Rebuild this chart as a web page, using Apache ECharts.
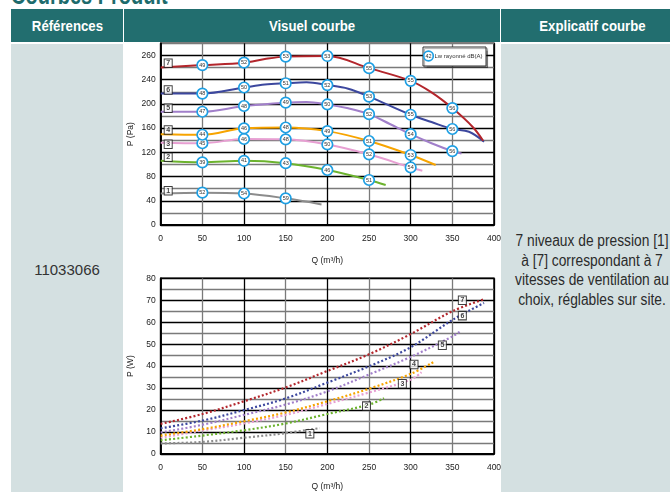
<!DOCTYPE html>
<html>
<head>
<meta charset="utf-8">
<script src="https://cdn.jsdelivr.net/npm/echarts@6/dist/echarts.min.js"></script>
<style>
  html, body { margin: 0; padding: 0; background: #fff; }
  body { width: 670px; height: 492px; position: relative; overflow: hidden;
         font-family: "Liberation Sans", Arial, sans-serif; }
  .title { position: absolute; left: 11px; top: -17px; font: bold 25px/25px "Liberation Sans", sans-serif; color: #1d6b6c;
           transform: scaleX(0.8); transform-origin: left center; white-space: nowrap; }
  .head { position: absolute; top: 9px; height: 33px; background: #226e6f; color: #fff;
          font: bold 15px/33px "Liberation Sans", sans-serif; text-align: center; }
  .head span { display: inline-block; transform: scaleX(0.88); white-space: nowrap; }
  .col { position: absolute; top: 44px; height: 460px; }
  .light { background: #d4e0e1; }
  .ref { position: absolute; left: 11px; width: 112px; top: 261px; text-align: center; font-size: 15px; color: #333; }
  .expl { position: absolute; left: 501px; width: 182px; top: 231px; text-align: center; white-space: nowrap;
          font: 16px/19.5px "Liberation Sans", sans-serif; color: #2b2b2b; transform: scaleX(0.86); }
  #chart { position: absolute; left: 0; top: 0; width: 670px; height: 492px; }
</style>
</head>
<body>
<div class="title">Courbes Produit</div>
<div class="head" style="left:11px;width:112px"><span>Références</span></div>
<div class="head" style="left:124px;width:376px"><span>Visuel courbe</span></div>
<div class="head" style="left:501px;width:182px"><span>Explicatif courbe</span></div>
<div class="col light" style="left:11px;width:112px"></div>
<div class="col light" style="left:501px;width:182px"></div>
<div class="ref">11033066</div>
<div class="expl">7 niveaux de pression [1]<br>à [7] correspondant à 7<br>vitesses de ventilation au<br>choix, réglables sur site.</div>
<div id="chart"></div>
<script>
// courbes pression P (Pa) en fonction du débit Q (m3/h), niveaux 1 à 7
const pressure7 = [[0,260],[50,264],[100,268],[125,274],[150,278],[200,279],[250,259],[300,238],[325,219],[350,193],[375,161],[387,139]];
const pressure6 = [[0,217],[50,217],[100,227],[125,232],[150,234],[175,235.5],[200,231],[225,225],[250,212],[300,182],[325,170],[350,158.5],[370,154],[388,137.6]];
const pressure5 = [[0,187],[50,187],[100,196.5],[150,202],[175,203],[200,199],[225,192.6],[250,183],[275,166.8],[300,150],[325,135],[350,122],[361,118]];
const pressure4 = [[0,150],[50,149],[100,159.6],[150,161],[200,155],[250,138.7],[300,115.6],[330,99]];
const pressure3 = [[0,136],[50,135],[100,142],[150,141.4],[200,133],[250,116.7],[300,95],[314,89.7]];
const pressure2 = [[0,106],[50,103.5],[100,106],[150,102],[200,90.8],[250,74.3],[270,66]];
const pressure1 = [[0,52],[50,53.4],[100,52],[150,44],[193,34]];

// niveaux Lw rayonné dB(A) aux débits 50, 100, 150 ...
const dbQ = [50,100,150,200,250,300,350];
const db7 = [49,52,53,53,55,55,56];
const db6 = [48,50,51,52,53,55,56];
const db5 = [47,48,49,50,52,54,56];
const db4 = [44,46,48,49,51,53];
const db3 = [45,46,48,50,52,54];
const db2 = [39,41,43,46,51];
const db1 = [52,54,59];

// puissance P (W)
const power7 = [[0,13.7],[50,18.2],[100,24],[150,30.3],[200,37.8],[250,45.4],[300,54.6],[350,65],[387,70.3]];
const power6 = [[0,11.7],[50,15.2],[100,20],[150,25.3],[200,32.5],[250,39.9],[300,48.6],[350,61],[388,68.8]];
const power5 = [[0,9.8],[50,13.3],[100,17.8],[150,22.5],[200,28.5],[250,36.2],[300,44.2],[350,53.5],[360,56]];
const power4 = [[0,8.4],[50,11.3],[100,14.9],[150,18.9],[200,24],[250,29.7],[300,36.5],[328,42]];
const power3 = [[0,7.4],[50,10.7],[100,13.9],[150,17.8],[200,22.8],[250,28],[300,33.8],[313,37.2]];
const power2 = [[0,6.2],[50,8.4],[100,10.8],[150,13.9],[200,18.2],[250,22.5],[268,25.4]];
const power1 = [[0,4.8],[50,5.5],[100,7.4],[150,9.5],[191,11.8]];

// étiquettes des niveaux [1]..[7]
const levelNames = ['1','2','3','4','5','6','7'];
const pressureTags = [[9,56.7],[9,111.7],[9,133.2],[9,157],[9,192.7],[9,223],[9,267]];
const powerTags = [[179,9.2],[247,21.8],[290,32],[304,40.8],[338,49.5],[362,63],[362,70]];

const levelColors = ['#8c8c8c','#6cb32e','#e79fd2','#f7a400','#a17fca','#3c479e','#b3262c'];
const pressureTickValues = [0,40,80,120,160,200,240,280];
const pressureTickLabels = ['0','40','80','120','160','200','240','260'];

const pressureCurves = [pressure1,pressure2,pressure3,pressure4,pressure5,pressure6,pressure7];
const powerCurves = [power1,power2,power3,power4,power5,power6,power7];
const dbLevels = [db1,db2,db3,db4,db5,db6,db7];

const chart = echarts.init(document.getElementById('chart'), null, { renderer: 'canvas' });

const axisFont = { fontSize: 8.5, color: '#222', fontFamily: 'Liberation Sans' };

function xAxisFor(gridIndex, gap) {
  return {
    gridIndex, type: 'value', min: 0, max: 400, interval: 50,
    name: 'Q (m³/h)', nameLocation: 'middle', nameGap: gap,
    nameTextStyle: axisFont,
    axisLine: { lineStyle: { color: '#000', width: 1.8 } },
    axisTick: { show: false },
    axisLabel: Object.assign({ margin: 9 }, axisFont),
    splitLine: { show: true, lineStyle: { color: ['#000', '#7a7a7a'], width: 1.3 } }
  };
}

const lineSeries = [];
pressureCurves.forEach((c, i) => {
  lineSeries.push({
    type: 'line', xAxisIndex: 0, yAxisIndex: 0, data: c, smooth: 0.35,
    symbol: 'none', lineStyle: { color: levelColors[i], width: 2 }, z: 3
  });
});
powerCurves.forEach((c, i) => {
  lineSeries.push({
    type: 'line', xAxisIndex: 1, yAxisIndex: 1, data: c, smooth: 0.35,
    symbol: 'none', lineStyle: { color: levelColors[i], width: 2.2, type: [2, 2.2] }, z: 3
  });
});

// repères dB(A) posés sur les courbes
const dbMarks = [];
dbLevels.forEach((levels, i) => {
  levels.forEach((db, k) => {
    const q = dbQ[k];
    const pt = pressureCurves[i].find(p => p[0] === q);
    dbMarks.push([q, pt[1], db]);
  });
});

const tagStyle = {
  type: 'scatter', symbol: 'rect', symbolSize: [8, 8.5], z: 6,
  itemStyle: { color: '#fff', borderColor: '#111', borderWidth: 1 },
  label: { show: true, position: 'inside', formatter: p => p.value[2], fontSize: 7, fontWeight: 'bold', color: '#111' }
};

chart.setOption({
  animation: false,
  backgroundColor: 'transparent',
  grid: [
    { left: 160.7, top: 43.3, width: 333.3, height: 181.7, show: true, borderColor: '#000', borderWidth: 1.5 },
    { left: 160.7, top: 278.3, width: 333.3, height: 184.4, show: true, borderColor: '#000', borderWidth: 1.5 }
  ],
  xAxis: [xAxisFor(0, 31), xAxisFor(1, 28)],
  yAxis: [
    {
      gridIndex: 0, type: 'value', min: 0, max: 300, interval: 20,
      name: 'P (Pa)', nameLocation: 'middle', nameGap: 26, nameTextStyle: axisFont,
      axisLine: { show: true, lineStyle: { color: '#000', width: 1.8 } },
      axisTick: { show: false },
      axisLabel: Object.assign({ margin: 5, showMaxLabel: true, formatter: v => {
        const k = pressureTickValues.indexOf(v);
        return k >= 0 ? pressureTickLabels[k] : '';
      } }, axisFont),
      splitLine: { show: true, lineStyle: { color: ['#000', '#7a7a7a'], width: 1.3 } }
    },
    {
      gridIndex: 1, type: 'value', min: 0, max: 80, interval: 5,
      name: 'P (W)', nameLocation: 'middle', nameGap: 26, nameTextStyle: axisFont,
      axisLine: { show: true, lineStyle: { color: '#000', width: 1.8 } },
      axisTick: { show: false },
      axisLabel: Object.assign({ margin: 5, formatter: v => (v % 10 === 0 ? String(v) : '') }, axisFont),
      splitLine: { show: true, lineStyle: { color: ['#000', '#7a7a7a'], width: 1.3 } }
    }
  ],
  graphic: [
    { type: 'rect', shape: { x: 423, y: 47, width: 63, height: 19 },
      style: { fill: '#fff', stroke: '#333', lineWidth: 1, shadowColor: 'rgba(0,0,0,0.35)', shadowOffsetX: 1.5, shadowOffsetY: 1.5, shadowBlur: 1 }, z: 10 },
    { type: 'circle', shape: { cx: 428.5, cy: 56, r: 4.8 },
      style: { fill: '#fff', stroke: '#1e9fe3', lineWidth: 1.7 }, z: 11 },
    { type: 'text', x: 428.5, y: 56, style: { text: '42', fontSize: 5.5, fill: '#333', align: 'center', verticalAlign: 'middle' }, z: 12 },
    { type: 'text', x: 434.5, y: 56, style: { text: 'Lw rayonné dB(A)', fontSize: 6, fill: '#333', verticalAlign: 'middle', fontFamily: 'Liberation Sans' }, z: 12 }
  ],
  series: lineSeries.concat([
    {
      type: 'scatter', xAxisIndex: 0, yAxisIndex: 0, data: dbMarks, symbolSize: 10.5, z: 5,
      itemStyle: { color: '#fff', borderColor: '#1e9fe3', borderWidth: 1.7, opacity: 1 },
      label: { show: true, position: 'inside', formatter: p => p.value[2], fontSize: 5.5, color: '#333' }
    },
    Object.assign({}, tagStyle, { xAxisIndex: 0, yAxisIndex: 0,
      data: pressureTags.map((t, i) => [t[0], t[1], levelNames[i]]) }),
    Object.assign({}, tagStyle, { xAxisIndex: 1, yAxisIndex: 1,
      data: powerTags.map((t, i) => [t[0], t[1], levelNames[i]]) })
  ])
});
</script>
</body>
</html>
